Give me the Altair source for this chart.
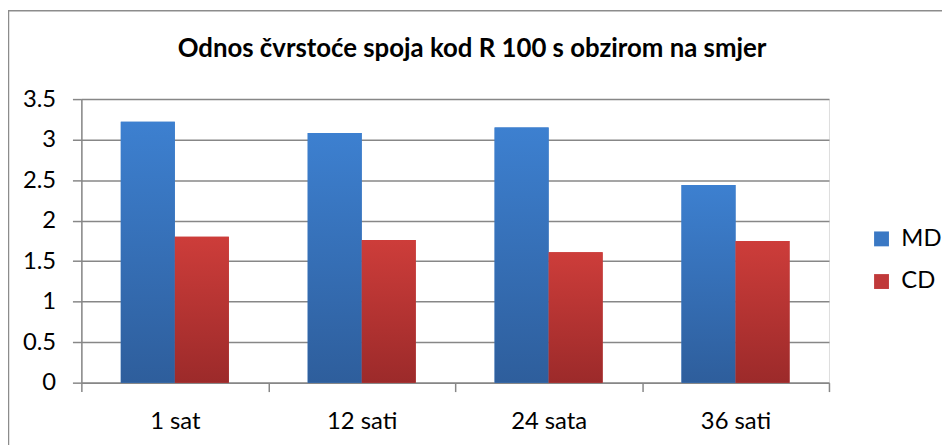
import altair as alt
import pandas as pd

title_text = "Odnos čvrstoće spoja kod R 100 s obzirom na smjer"
categories = ["1 sat", "12 sati", "24 sata", "36 sati"]
series = ["MD", "CD"]
md_values = [3.22, 3.08, 3.15, 2.44]
cd_values = [1.80, 1.76, 1.61, 1.75]
y_ticks = [0, 0.5, 1, 1.5, 2, 2.5, 3, 3.5]

rows = []
for c, m, d in zip(categories, md_values, cd_values):
    rows.append({"kat": c, "smjer": "MD", "v": m})
    rows.append({"kat": c, "smjer": "CD", "v": d})
df = pd.DataFrame(rows)

FONT = "Lato"
GRID = "#878787"
LBL = 24

x_enc = alt.X("kat:N", sort=categories, title=None,
              scale=alt.Scale(paddingInner=0, paddingOuter=0),
              axis=alt.Axis(labelAngle=0, labelFontSize=LBL, labelFont=FONT, labelColor="#000",
                            tickBand="extent", tickSize=9, tickColor=GRID, tickWidth=1.5,
                            domainColor=GRID, domainWidth=1.5, labelPadding=18, grid=False))
xo_enc = alt.XOffset("smjer:N", sort=series,
                     scale=alt.Scale(domain=series, paddingOuter=0.73, paddingInner=0))
y_enc = alt.Y("v:Q", title=None,
              scale=alt.Scale(domain=[0, 3.5], nice=False),
              axis=alt.Axis(values=y_ticks, format="~g", labelFontSize=LBL, labelFont=FONT,
                            labelColor="#000", tickSize=9, tickColor=GRID, tickWidth=1.5,
                            domainColor=GRID, domainWidth=1.5, gridColor=GRID, gridWidth=1.5,
                            labelPadding=17))

base = alt.Chart(df)

flat = base.mark_bar().encode(
    x=x_enc, xOffset=xo_enc, y=y_enc,
    color=alt.Color("smjer:N", sort=series,
                    scale=alt.Scale(domain=series, range=["#3A78C4", "#C0393A"]),
                    legend=alt.Legend(title=None, orient="none", legendX=795, legendY=129,
                                      symbolType="square", symbolSize=225, symbolStrokeWidth=0,
                                      labelFontSize=LBL, labelFont=FONT, labelColor="#000",
                                      rowPadding=19, labelOffset=8)),
)

blue_grad = alt.Gradient(gradient="linear", x1=0, x2=0, y1=0, y2=1,
                         stops=[alt.GradientStop(color="#3D80D0", offset=0),
                                alt.GradientStop(color="#2E5E9C", offset=1)])
red_grad = alt.Gradient(gradient="linear", x1=0, x2=0, y1=0, y2=1,
                        stops=[alt.GradientStop(color="#CD3D3A", offset=0),
                               alt.GradientStop(color="#9C2A2A", offset=1)])

md_bars = base.mark_bar(color=blue_grad).encode(x=x_enc, xOffset=xo_enc, y=y_enc).transform_filter(
    alt.datum.smjer == "MD")
cd_bars = base.mark_bar(color=red_grad).encode(x=x_enc, xOffset=xo_enc, y=y_enc).transform_filter(
    alt.datum.smjer == "CD")

border = alt.Chart(pd.DataFrame({"a": [0]})).mark_rect(
    fill=None, stroke="#8C8C8C", strokeWidth=1.5).encode(
    x=alt.value(-73.5), x2=alt.value(900), y=alt.value(-89), y2=alt.value(400))

title_mark = alt.Chart(pd.DataFrame({"t": [title_text]})).mark_text(
    font=FONT, fontSize=26, fontWeight="bold", color="#000",
    align="center", baseline="alphabetic").encode(
    text="t:N", x=alt.value(394), y=alt.value(-42))

chart = alt.layer(flat, md_bars, cd_bars, border, title_mark).properties(
    width=754, height=286,
    autosize=alt.AutoSizeParams(type="none"),
    padding={"left": 74, "top": 90, "right": 114, "bottom": 61},
).configure_view(stroke=None).configure(background="white")

chart.save("out.html", embed_options={"renderer": "svg", "actions": False})
